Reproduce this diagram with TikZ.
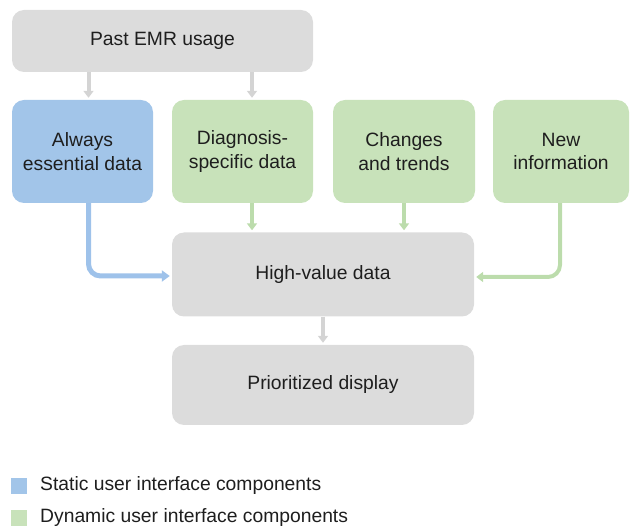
\documentclass[tikz,border=0pt]{standalone}
\usepackage{fontspec}
\setmainfont{Liberation Sans}
\usetikzlibrary{arrows.meta}
\definecolor{boxgray}{RGB}{220,220,220}
\definecolor{arrgray}{RGB}{212,212,212}
\definecolor{boxblue}{RGB}{162,197,233}
\definecolor{arrblue}{RGB}{158,194,234}
\definecolor{boxgreen}{RGB}{200,226,186}
\definecolor{arrgreen}{RGB}{188,220,172}
\definecolor{txt}{RGB}{30,30,30}
\tikzset{
  box/.style={rounded corners=12pt, align=center, text=txt,
    font=\fontsize{19.3}{23.5}\selectfont, inner sep=0pt},
  graybox/.style={box, fill=boxgray},
  bluebox/.style={box, fill=boxblue},
  greenbox/.style={box, fill=boxgreen},
  conn/.style={line width=4pt, -{Triangle[length=7pt,width=10pt]}, shorten >=2pt},
  gconn/.style={conn, draw=arrgray},
  bconn/.style={conn, draw=arrblue, line width=5pt, -{Triangle[length=8pt,width=11pt]}},
  grconn/.style={conn, draw=arrgreen},
  legsq/.style={minimum size=16pt, inner sep=0pt},
  legtxt/.style={anchor=west, text=txt, font=\fontsize{19.3}{23.5}\selectfont, inner sep=0pt}
}
\begin{document}
\begin{tikzpicture}[x=1pt,y=-1pt]
\useasboundingbox (0,0) rectangle (630,529);
\node[graybox, minimum width=301pt, minimum height=62pt] (past) at (162.5,41) {Past EMR usage};
\node[bluebox, minimum width=141pt, minimum height=103pt] (always) at (82.5,151.5) {Always\\essential data};
\node[greenbox, minimum width=141pt, minimum height=103pt] (diag) at (242.5,151.5) {Diagnosis-\\specific data};
\node[greenbox, minimum width=142pt, minimum height=103pt] (chg) at (404,151.5) {Changes\\and trends};
\node[greenbox, minimum width=136pt, minimum height=103pt] (new) at (561,151.5) {New\\information};
\node[graybox, minimum width=302pt, minimum height=84pt] (high) at (323,274.5) {High-value data};
\node[graybox, minimum width=302pt, minimum height=80pt] (prio) at (323,385) {Prioritized display};

\draw[gconn] ([xshift=6pt]always.north |- past.south) -- ([xshift=6pt]always.north);
\draw[gconn] ([xshift=9.5pt]diag.north |- past.south) -- ([xshift=9.5pt]diag.north);
\draw[grconn] ([xshift=9.5pt]diag.south) -- ([xshift=9.5pt]diag.south |- high.north);
\draw[grconn] (chg.south) -- (chg.south |- high.north);
\draw[bconn, rounded corners=12pt] ([xshift=6pt]always.south) |- ([yshift=-1.5pt]high.west);
\draw[grconn, rounded corners=12pt] ([xshift=-1pt]new.south) |- ([yshift=-2.5pt]high.east);
\draw[gconn] (high.south) -- (prio.north);

\node[legsq, fill=boxblue] (lb) at (18.5,486) {};
\node[legtxt] (lbt) at (40,486) {Static user interface components};
\node[legsq, fill=boxgreen] (lg) at (18.5,518) {};
\node[legtxt] (lgt) at (40,518) {Dynamic user interface components};
\end{tikzpicture}
\end{document}
